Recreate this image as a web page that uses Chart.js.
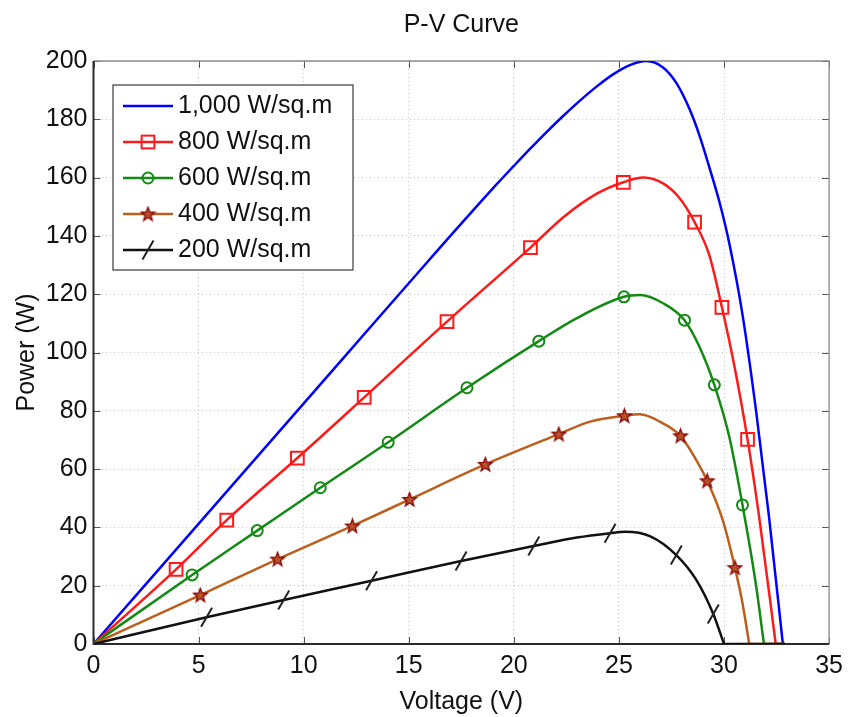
<!DOCTYPE html>
<html>
<head>
<meta charset="utf-8">
<title>P-V Curve</title>
<script src="https://cdn.jsdelivr.net/npm/chart.js@4.4.1/dist/chart.umd.min.js"></script>
<style>
  html, body { margin: 0; padding: 0; background: #ffffff; }
  #chart { display: block; }
</style>
</head>
<body>
<canvas id="chart" width="850" height="717"></canvas>
<script>
// ---- labels ----
const chartTitle = 'P-V Curve';
const xTitle = 'Voltage (V)';
const yTitle = 'Power (W)';
const seriesNames = ['1,000 W/sq.m', '800 W/sq.m', '600 W/sq.m', '400 W/sq.m', '200 W/sq.m'];

// ---- axis ticks ----
const xTicks = [0, 5, 10, 15, 20, 25, 30, 35];
const yTicks = [0, 20, 40, 60, 80, 100, 120, 140, 160, 180, 200];

// ---- irradiance curves: voltage (V) and power (W) up to the open-circuit point ----
const v1000 = [0, 4, 8, 12, 16, 19.22, 20.0, 20.79, 21.58, 22.37, 23.16, 23.95, 24.74, 25.52, 26.3, 27.1, 27.73, 28.36, 28.83, 29.3, 29.78, 30.25, 30.88, 31.52, 32.14, 32.8];
const p1000 = [0, 33, 66, 99, 132, 158, 164, 170, 175.8, 181.3, 186.5, 191.3, 195.5, 198.6, 200, 197.8, 192.5, 183.5, 174.5, 163.6, 151.7, 137.5, 113, 80.3, 43.7, 0];

const v800 = [0, 3.93, 6.34, 9.70, 12.88, 16.82, 20.79, 22.37, 23.95, 25.21, 26.16, 27.1, 27.89, 28.6, 29.3, 29.9, 30.5, 31.12, 31.67, 32.46];
const p800 = [0, 25.6, 42.5, 63.8, 84.6, 110.6, 136.0, 146.5, 154.5, 158.4, 160.0, 158.0, 152.9, 144.7, 133.4, 115.5, 95.1, 70.2, 43.7, 0];
const mark800 = [1, 2, 3, 4, 5, 6, 9, 13, 15, 17];

const v600 = [0, 4.69, 7.79, 10.79, 14.02, 17.77, 21.19, 23.0, 25.24, 26.0, 27.1, 28.12, 28.83, 29.54, 30.25, 30.88, 31.51, 31.9];
const p600 = [0, 23.7, 38.9, 53.6, 69.2, 87.9, 103.9, 111.8, 119.1, 119.7, 116.9, 111.1, 102, 88.9, 71.1, 47.7, 20.8, 0];
const mark600 = [1, 2, 3, 4, 5, 6, 8, 11, 13, 15];

const v400 = [0, 5.08, 8.76, 12.32, 15.04, 18.64, 22.14, 23.63, 25.26, 26.0, 26.94, 27.93, 28.68, 29.2, 29.94, 30.52, 30.88, 31.2];
const p400 = [0, 16.8, 29.1, 40.5, 49.6, 61.6, 72.0, 76.3, 78.3, 78.8, 76.3, 71.4, 63.1, 56.0, 42.5, 26.2, 14, 0];
const mark400 = [1, 2, 3, 4, 5, 6, 8, 11, 13, 15];

const v200 = [0, 5.38, 9.05, 13.23, 17.49, 20.95, 23.0, 24.58, 25.3, 26.47, 27.73, 28.68, 29.49, 30.0];
const p200 = [0, 9.2, 15.1, 21.7, 28.5, 33.6, 36.5, 38.0, 38.5, 37.0, 30.5, 22, 10.3, 0];
const mark200 = [1, 2, 3, 4, 5, 7, 10, 12];

// beyond open-circuit voltage every curve stays at zero power up to this voltage
const tailEndV = 32.9;

// ---- marker glyphs ----
function makeStar(size, face, edge) {
  const c = document.createElement('canvas');
  c.width = size; c.height = size;
  const g = c.getContext('2d');
  const cx = size / 2, cy = size / 2 + 0.5, R = size / 2 - 1.3, r = R * 0.42;
  g.beginPath();
  for (let k = 0; k < 10; k++) {
    const ang = -Math.PI / 2 + k * Math.PI / 5;
    const rr = k % 2 ? r : R;
    g.lineTo(cx + rr * Math.cos(ang), cy + rr * Math.sin(ang));
  }
  g.closePath();
  g.fillStyle = face; g.fill();
  g.lineWidth = 1.4; g.strokeStyle = edge; g.lineJoin = 'miter'; g.stroke();
  return c;
}
const starImg = makeStar(17, '#b8542a', '#8b0a0a');

const FONT = '"Liberation Sans", Arial, Helvetica, sans-serif';
Chart.defaults.font.family = FONT;
Chart.defaults.color = '#111';

const series = [
  { name: seriesNames[0], v: v1000, p: p1000, marks: [], color: '#0000ff', style: 'circle', radius: 0, edge: '#0000ff', face: 'rgba(0,0,0,0)', bw: 0, rot: 0, order: 5 },
  { name: seriesNames[1], v: v800, p: p800, marks: mark800, color: '#ff1a1a', style: 'rect', radius: 9, edge: '#ff1a1a', face: 'rgba(0,0,0,0)', bw: 2, rot: 0, order: 4 },
  { name: seriesNames[2], v: v600, p: p600, marks: mark600, color: '#138a13', style: 'circle', radius: 5.5, edge: '#138a13', face: 'rgba(0,0,0,0)', bw: 2, rot: 0, order: 3 },
  { name: seriesNames[3], v: v400, p: p400, marks: mark400, color: '#bd5f1c', style: starImg, radius: 6, edge: '#8b0a0a', face: '#b8542a', bw: 1, rot: 0, order: 2 },
  { name: seriesNames[4], v: v200, p: p200, marks: mark200, color: '#111111', style: 'line', radius: 11, edge: '#222222', face: '#222222', bw: 2, rot: -60, order: 1 }
];

const datasets = [];
series.forEach(s => {
  datasets.push({
    label: s.name,
    data: s.v.map((x, i) => ({ x, y: s.p[i] })),
    borderColor: s.color,
    borderWidth: 2.5,
    fill: false,
    cubicInterpolationMode: 'monotone',
    pointStyle: s.style,
    pointRadius: ctx => s.marks.includes(ctx.dataIndex) ? s.radius : 0,
    pointBorderColor: s.edge,
    pointBackgroundColor: s.face,
    pointBorderWidth: s.bw,
    pointRotation: s.rot,
    order: s.order
  });
  // zero-power stretch after open circuit
  datasets.push({
    label: s.name + ' (open circuit)',
    data: [{ x: s.v[s.v.length - 1], y: 0 }, { x: tailEndV, y: 0 }],
    borderColor: s.color,
    borderWidth: 2.5,
    pointRadius: 0,
    fill: false,
    order: s.order
  });
});

// axes box with inward tick marks (drawn under the curves)
const frameBox = {
  id: 'frameBox',
  beforeDatasetsDraw(chart) {
    const { ctx, chartArea: a, scales: { x, y } } = chart;
    ctx.save();
    ctx.strokeStyle = '#555';
    ctx.lineWidth = 1;
    ctx.beginPath();
    x.ticks.forEach(t => {
      const px = Math.round(x.getPixelForValue(t.value)) + 0.5;
      ctx.moveTo(px, a.bottom); ctx.lineTo(px, a.bottom - 7);
      ctx.moveTo(px, a.top); ctx.lineTo(px, a.top + 7);
    });
    y.ticks.forEach(t => {
      const py = Math.round(y.getPixelForValue(t.value)) + 0.5;
      ctx.moveTo(a.left, py); ctx.lineTo(a.left + 7, py);
      ctx.moveTo(a.right, py); ctx.lineTo(a.right - 7, py);
    });
    ctx.stroke();
    ctx.strokeStyle = '#8c8c8c';
    ctx.lineWidth = 1.3;
    ctx.beginPath();
    ctx.moveTo(a.left, a.top); ctx.lineTo(a.right, a.top); ctx.lineTo(a.right, a.bottom);
    ctx.stroke();
    ctx.strokeStyle = '#2a2a2a';
    ctx.lineWidth = 2;
    ctx.beginPath();
    ctx.moveTo(a.left, a.top); ctx.lineTo(a.left, a.bottom); ctx.lineTo(a.right, a.bottom);
    ctx.stroke();
    ctx.restore();
  }
};

// boxed legend: a short line with the series marker in its middle
const boxedLegend = {
  id: 'boxedLegend',
  afterDatasetsDraw(chart) {
    const ctx = chart.ctx;
    const box = { left: 113, top: 85, right: 353, bottom: 270 };
    ctx.save();
    ctx.fillStyle = '#ffffff';
    ctx.fillRect(box.left, box.top, box.right - box.left, box.bottom - box.top);
    ctx.strokeStyle = '#3a3a3a';
    ctx.lineWidth = 1.2;
    ctx.strokeRect(box.left, box.top, box.right - box.left, box.bottom - box.top);
    series.forEach((s, i) => {
      const y = 106 + 36 * i;
      const x0 = 123, x1 = 173, xm = (x0 + x1) / 2;
      ctx.strokeStyle = s.color;
      ctx.lineWidth = 2.5;
      ctx.beginPath(); ctx.moveTo(x0, y); ctx.lineTo(x1, y); ctx.stroke();
      ctx.strokeStyle = s.edge;
      ctx.lineWidth = s.bw;
      if (s.style === 'rect' && s.radius) {
        const h = s.radius * Math.SQRT1_2;
        ctx.strokeRect(xm - h, y - h, 2 * h, 2 * h);
      } else if (s.style === 'circle' && s.radius) {
        ctx.beginPath(); ctx.arc(xm, y, s.radius, 0, Math.PI * 2); ctx.stroke();
      } else if (s.style === 'line') {
        const r = s.radius, rad = s.rot * Math.PI / 180;
        ctx.beginPath();
        ctx.moveTo(xm - Math.cos(rad) * r, y - Math.sin(rad) * r);
        ctx.lineTo(xm + Math.cos(rad) * r, y + Math.sin(rad) * r);
        ctx.stroke();
      } else if (typeof s.style === 'object') {
        ctx.drawImage(s.style, xm - s.style.width / 2, y - s.style.height / 2);
      }
      ctx.fillStyle = '#111';
      ctx.font = '25px ' + FONT;
      ctx.textBaseline = 'middle';
      ctx.textAlign = 'left';
      ctx.fillText(s.name, 178, y);
    });
    ctx.restore();
  }
};

new Chart(document.getElementById('chart'), {
  type: 'line',
  data: { datasets },
  plugins: [frameBox, boxedLegend],
  options: {
    responsive: false,
    animation: false,
    events: [],
    layout: { padding: { left: 0, right: 16, top: 0, bottom: 0 } },
    plugins: {
      legend: { display: false },
      tooltip: { enabled: false },
      title: {
        display: true,
        text: chartTitle,
        fullSize: false,
        color: '#111',
        font: { size: 25, weight: 'normal' },
        padding: { top: 10.5, bottom: 20.5 }
      }
    },
    scales: {
      x: {
        type: 'linear',
        min: xTicks[0],
        max: xTicks[xTicks.length - 1],
        afterBuildTicks: scale => { scale.ticks = xTicks.map(value => ({ value })); },
        ticks: { font: { size: 25 }, color: '#111', padding: 7, maxRotation: 0 },
        grid: { color: '#c4c4c4', lineWidth: 1, drawTicks: false },
        border: { display: false, dash: [1, 3] },
        title: { display: true, text: xTitle, font: { size: 25 }, color: '#111', padding: { top: 0, bottom: 0 } },
        afterFit: scale => { scale.height = 73; }
      },
      y: {
        type: 'linear',
        min: yTicks[0],
        max: yTicks[yTicks.length - 1],
        afterBuildTicks: scale => { scale.ticks = yTicks.map(value => ({ value })); },
        ticks: { font: { size: 25 }, color: '#111', padding: 6 },
        grid: { color: '#c4c4c4', lineWidth: 1, drawTicks: false },
        border: { display: false, dash: [1, 3] },
        title: { display: true, text: yTitle, font: { size: 25 }, color: '#111', padding: { top: 12, bottom: 0 } },
        afterFit: scale => { scale.width = 93.5; }
      }
    }
  }
});
</script>
</body>
</html>
